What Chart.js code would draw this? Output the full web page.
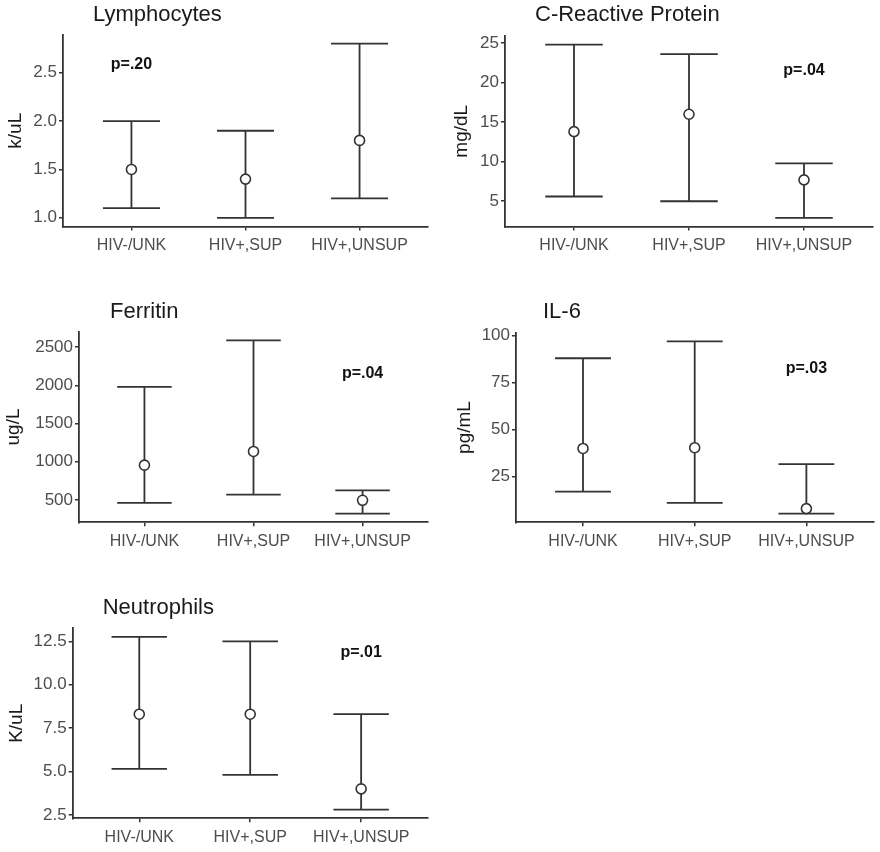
<!DOCTYPE html>
<html>
<head>
<meta charset="utf-8">
<script src="https://cdn.jsdelivr.net/npm/chart.js@4.4.1/dist/chart.umd.min.js"></script>
<style>
  body { margin: 0; background: #fff; }
  #wrap { position: relative; width: 880px; height: 852px; }
  .panel { position: absolute; }
</style>
</head>
<body>
<div id="wrap"></div>
<script>
// groups on the x axis
const categories = ["HIV-/UNK", "HIV+,SUP", "HIV+,UNSUP"];

// median and interval per group
const lymphMid = [1.5, 1.4, 1.8];
const lymphLow = [1.1, 1.0, 1.2];
const lymphHigh = [2.0, 1.9, 2.8];
const lymphTicks = ["1.0", "1.5", "2.0", "2.5"];

const crpMid = [13.8, 16.0, 7.7];
const crpLow = [5.6, 5.0, 2.9];
const crpHigh = [24.8, 23.6, 9.8];
const crpTicks = ["5", "10", "15", "20", "25"];

const ferrMid = [955, 1135, 495];
const ferrLow = [460, 570, 320];
const ferrHigh = [1980, 2590, 625];
const ferrTicks = ["500", "1000", "1500", "2000", "2500"];

const il6Mid = [40, 40.4, 8];
const il6Low = [17, 11, 5.3];
const il6High = [88, 97, 31.7];
const il6Ticks = ["25", "50", "75", "100"];

const neutMid = [8.3, 8.3, 4.0];
const neutLow = [5.15, 4.8, 2.8];
const neutHigh = [12.75, 12.5, 8.3];
const neutTicks = ["2.5", "5.0", "7.5", "10.0", "12.5"];

const lineColor = "#333333";
const titleFont = 22;

const panels = [
  { title: "Lymphocytes", unit: "k/uL", mid: lymphMid, low: lymphLow, high: lymphHigh, ticks: lymphTicks,
    pText: "p=.20", pAt: [1, 2.58],
    box: { left: 0, top: 0, w: 440, h: 270 }, area: { l: 63, r: 428, t: 35, b: 226.5 }, titleY: 15, unitPad: 4, titleDx: 30 },
  { title: "C-Reactive Protein", unit: "mg/dL", mid: crpMid, low: crpLow, high: crpHigh, ticks: crpTicks,
    pText: "p=.04", pAt: [3, 21.5],
    box: { left: 440, top: 0, w: 440, h: 270 }, area: { l: 65, r: 433, t: 36, b: 226.5 }, titleY: 15, unitPad: 10, titleDx: 30 },
  { title: "Ferritin", unit: "ug/L", mid: ferrMid, low: ferrLow, high: ferrHigh, ticks: ferrTicks,
    pText: "p=.04", pAt: [3, 2160],
    box: { left: 0, top: 290, w: 440, h: 270 }, area: { l: 79, r: 428, t: 41.7, b: 232.3 }, titleY: 21.7, unitPad: 2, titleDx: 31 },
  { title: "IL-6", unit: "pg/mL", mid: il6Mid, low: il6Low, high: il6High, ticks: il6Ticks,
    pText: "p=.03", pAt: [3, 82.4],
    box: { left: 440, top: 290, w: 440, h: 270 }, area: { l: 76, r: 435, t: 42.7, b: 232.3 }, titleY: 21.7, unitPad: 13, titleDx: 27 },
  { title: "Neutrophils", unit: "K/uL", mid: neutMid, low: neutLow, high: neutHigh, ticks: neutTicks,
    pText: "p=.01", pAt: [3, 11.85],
    box: { left: 0, top: 570, w: 440, h: 282 }, area: { l: 72.7, r: 427.7, t: 58.3, b: 248.3 }, titleY: 37.7, unitPad: 5, titleDx: 30 }
];

function makeBarsPlugin(p) {
  return {
    id: "errorBars",
    afterLayout(chart) {
      // title starts a little right of the y axis, like the original
      const t = chart.titleBlock;
      t.left = chart.chartArea.left + p.titleDx;
      t.right = chart.width;
    },
    beforeDatasetsDraw(chart) {
      const xs = chart.scales.x, ys = chart.scales.y, ctx = chart.ctx;
      ctx.save();
      ctx.strokeStyle = lineColor;
      ctx.lineWidth = 1.8;
      p.low.forEach((lo, i) => {
        const x = xs.getPixelForValue(i + 1);
        const half = xs.getPixelForValue(i + 1.25) - x;
        const yl = ys.getPixelForValue(lo);
        const yh = ys.getPixelForValue(p.high[i]);
        ctx.beginPath();
        ctx.moveTo(x, yl); ctx.lineTo(x, yh);
        ctx.moveTo(x - half, yl); ctx.lineTo(x + half, yl);
        ctx.moveTo(x - half, yh); ctx.lineTo(x + half, yh);
        ctx.stroke();
      });
      ctx.restore();
    },
    afterDatasetsDraw(chart) {
      const xs = chart.scales.x, ys = chart.scales.y, ctx = chart.ctx;
      ctx.save();
      ctx.fillStyle = "#111";
      ctx.font = "bold 16px 'Liberation Sans', Arial, sans-serif";
      ctx.textAlign = "center";
      ctx.textBaseline = "middle";
      ctx.fillText(p.pText, xs.getPixelForValue(p.pAt[0]), ys.getPixelForValue(p.pAt[1]));
      ctx.restore();
    }
  };
}

const wrap = document.getElementById("wrap");

panels.forEach((p, n) => {
  const div = document.createElement("div");
  div.className = "panel";
  div.style.left = p.box.left + "px";
  div.style.top = p.box.top + "px";
  div.style.width = p.box.w + "px";
  div.style.height = p.box.h + "px";
  const canvas = document.createElement("canvas");
  canvas.id = "chart" + n;
  canvas.width = p.box.w;
  canvas.height = p.box.h;
  div.appendChild(canvas);
  wrap.appendChild(div);

  // ggplot style 5% expansion of the y range
  const dMin = Math.min(...p.low), dMax = Math.max(...p.high);
  const pad = (dMax - dMin) * 0.05;
  const tickVals = p.ticks.map(Number);

  const lh = titleFont * 1.2;
  const titleTop = p.titleY - lh / 2;
  const xAxisH = 30;

  new Chart(canvas, {
    type: "scatter",
    data: {
      datasets: [{
        data: p.mid.map((v, i) => ({ x: i + 1, y: v })),
        pointRadius: 5,
        pointHoverRadius: 5,
        pointBackgroundColor: "#ffffff",
        pointBorderColor: lineColor,
        pointBorderWidth: 1.6,
        showLine: false
      }]
    },
    options: {
      responsive: false,
      animation: false,
      devicePixelRatio: 1,
      layout: {
        padding: { left: 0, top: 0, right: p.box.w - p.area.r, bottom: p.box.h - p.area.b - xAxisH }
      },
      plugins: {
        legend: { display: false },
        tooltip: { enabled: false },
        title: {
          display: true,
          text: p.title,
          align: "start",
          color: "#1a1a1a",
          font: { size: titleFont, weight: "normal", family: "'Liberation Sans', Arial, sans-serif" },
          padding: { top: titleTop, bottom: p.area.t - titleTop - lh }
        }
      },
      scales: {
        x: {
          type: "linear",
          min: 0.4,
          max: 3.6,
          afterBuildTicks: (s) => { s.ticks = categories.map((c, i) => ({ value: i + 1 })); },
          afterFit: (s) => { s.height = xAxisH; },
          ticks: {
            callback: (v, i) => categories[i],
            color: "#4d4d4d",
            font: { size: 16, family: "'Liberation Sans', Arial, sans-serif" },
            padding: 5.5,
            maxRotation: 0,
            autoSkip: false
          },
          grid: { drawOnChartArea: false, drawTicks: true, tickLength: 4, color: lineColor, lineWidth: 1.5 },
          border: { display: true, color: lineColor, width: 1.8 }
        },
        y: {
          type: "linear",
          min: dMin - pad,
          max: dMax + pad,
          afterBuildTicks: (s) => { s.ticks = tickVals.map(v => ({ value: v })); },
          afterFit: (s) => { s.width = p.area.l; },
          ticks: {
            callback: (v, i) => p.ticks[i],
            color: "#4d4d4d",
            font: { size: 17, family: "'Liberation Sans', Arial, sans-serif" },
            padding: 2
          },
          grid: { drawOnChartArea: false, drawTicks: true, tickLength: 4, color: lineColor, lineWidth: 1.5 },
          border: { display: true, color: lineColor, width: 1.8 },
          title: {
            display: true,
            text: p.unit,
            color: "#1a1a1a",
            font: { size: 19, family: "'Liberation Sans', Arial, sans-serif" },
            padding: { top: p.unitPad, bottom: 0 }
          }
        }
      }
    },
    plugins: [makeBarsPlugin(p)]
  });
});
</script>
</body>
</html>
